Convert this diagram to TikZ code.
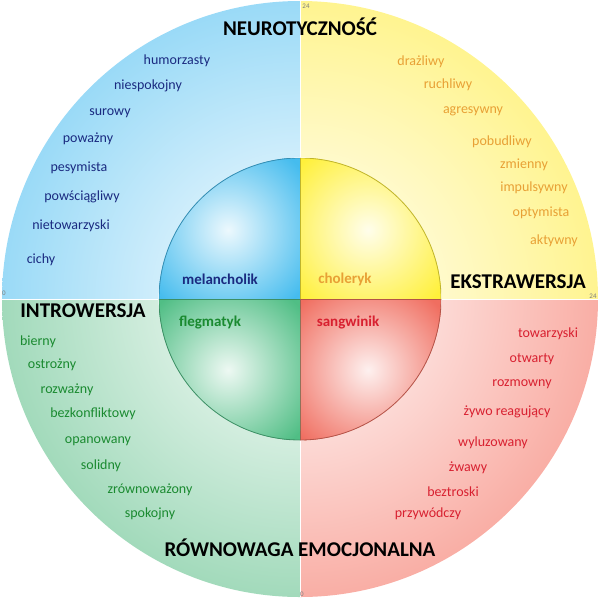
\documentclass[tikz,border=0pt]{standalone}
\usepackage{fontspec}
\setmainfont{Carlito}
\usetikzlibrary{positioning}
\definecolor{melblue}{HTML}{45BCEE}
\definecolor{melout}{HTML}{9ADAF7}
\definecolor{choyel}{HTML}{FFF03A}
\definecolor{choout}{HTML}{FFF490}
\definecolor{sanred}{HTML}{F06E60}
\definecolor{sanout}{HTML}{F9AEA5}
\definecolor{flegreen}{HTML}{50BE85}
\definecolor{fleout}{HTML}{A2DABB}
\definecolor{navytxt}{HTML}{1A2A80}
\definecolor{orangetxt}{HTML}{E8A035}
\definecolor{redtxt}{HTML}{D82030}
\definecolor{greentxt}{HTML}{1A8A30}
\tikzset{
    trait/.style={font=\fontsize{14}{16}\selectfont, inner sep=1pt},
    axis label/.style={font=\fontsize{21}{23}\selectfont\bfseries, inner sep=1pt},
    temper/.style={font=\fontsize{15}{17}\selectfont\bfseries, inner sep=1pt},
    scale mark/.style={font=\fontsize{7}{8}\selectfont, text=gray, inner sep=0pt}
}
\begin{document}
\begin{tikzpicture}[x=1pt, y=-1pt]
        \useasboundingbox (0,0) rectangle (612,600);
        \coordinate (c) at (300,299);

        % inner sphere quadrants
        \foreach \col/\x/\y/\hx/\hy in {melblue/159/158/228/230, choyel/441/158/368/230, sanred/441/440/368/370, flegreen/159/440/228/370} {
            \begin{scope}
                \clip (c) rectangle (\x,\y);
                \fill[\col] (c) circle (141);
                \shade[inner color=\col!10, outer color=\col] (\hx,\hy) circle (95);
                \draw[\col!75!black, line width=0.8pt] (\x,299) -- (c) -- (300,\y);
            \end{scope}
        }
        % outer ring quadrants
        \foreach \col/\x/\y in {melout/2/1, choout/598/1, sanout/598/597, fleout/2/597} {
            \begin{scope}
                \clip (c) rectangle (\x,\y);
                \shade[inner color=white, outer color=\col, even odd rule] (c) circle (298) (c) circle (141.4);
            \end{scope}
        }
        \foreach \col/\x/\y in {melblue/159/158, choyel/441/158, sanred/441/440, flegreen/159/440} {
            \begin{scope}
                \clip (c) rectangle (\x,\y);
                \draw[\col!75!black, line width=0.8pt] (c) circle (141);
            \end{scope}
        }
        \draw[white, line width=0.6pt] (300,1) -- (300,157);
        \draw[white, line width=0.6pt] (300,441) -- (300,597);
        \draw[white, line width=0.6pt] (2,299) -- (158,299);
        \draw[white, line width=0.6pt] (442,299) -- (598,299);

        % axis labels
        \node (neuro) [axis label] at (300,27) {NEUROTYCZNOŚĆ};
        \node (ekstra) [axis label] at (518,282) {EKSTRAWERSJA};
        \node (intro) [axis label] at (83,311) {INTROWERSJA};
        \node (rown) [axis label] at (300,548) {RÓWNOWAGA EMOCJONALNA};
        \node (top24) [scale mark] at (306,6) {24};
        \node (left0) [scale mark] at (4,293) {0};
        \node (right24) [scale mark] at (593,296) {24};
        \node (bottom0) [scale mark] at (302,594) {0};

        % temperaments
        \node (mel) [temper, text=navytxt] at (220,279) {melancholik};
        \node (cho) [temper, text=orangetxt] at (345,279) {choleryk};
        \node (fle) [temper, text=greentxt] at (210,323) {flegmatyk};
        \node (san) [temper, text=redtxt] at (348,323) {sangwinik};

        % traits
        \foreach \txt/\x/\y [count=\i] in {humorzasty/177/61, niespokojny/148/86, surowy/110/113, poważny/88/139, pesymista/79/168, powściągliwy/82/197, nietowarzyski/71/226, cichy/41/260}
            \node (mel\i) [trait, text=navytxt] at (\x,\y) {\txt};
        \foreach \txt/\x/\y [count=\i] in {drażliwy/421/62, ruchliwy/448/85, agresywny/473/111, pobudliwy/502/142, zmienny/524/165, impulsywny/534/188, optymista/541/213, aktywny/554/241}
            \node (cho\i) [trait, text=orangetxt] at (\x,\y) {\txt};
        \foreach \txt/\x/\y [count=\i] in {towarzyski/548/334, otwarty/532/359, rozmowny/522/384, żywo reagujący/507/412, wyluzowany/493/443, żwawy/468/468, beztroski/453/492, przywódczy/428/514}
            \node (san\i) [trait, text=redtxt] at (\x,\y) {\txt};
        \foreach \txt/\x/\y [count=\i] in {bierny/38/342, ostrożny/52/365, rozważny/67/390, bezkonfliktowy/93/414, opanowany/98/441, solidny/101/466, zrównoważony/150/490, spokojny/150/514}
            \node (fle\i) [trait, text=greentxt] at (\x,\y) {\txt};
    \end{tikzpicture}
\end{document}
